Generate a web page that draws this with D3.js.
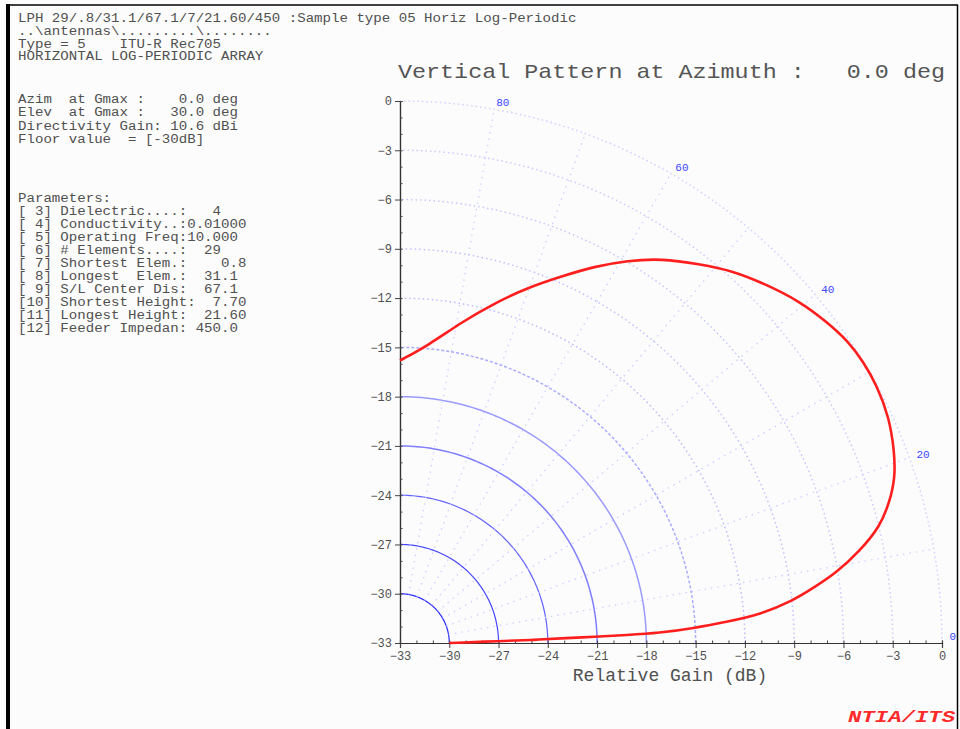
<!DOCTYPE html>
<html>
<head>
<meta charset="utf-8">
<script src="https://cdn.jsdelivr.net/npm/d3@7"></script>
<style>
  body { margin: 0; background: #fcfcfc; }
  text { font-family: "Liberation Mono", "DejaVu Sans Mono", monospace; }
</style>
</head>
<body>
<div id="chart"></div>
<script>
// Elevation angle (deg) and relative gain (dB)
const elevation = [0, 1.1, 1.3, 1.7, 1.8, 2.0, 2.2, 2.9, 3.7, 4.5, 6.2, 7.4, 9.1, 11.4, 13.6, 16.0, 18.5, 21.3, 24.8, 28.4,
  31.2, 34.0, 37.1, 40.6, 44.4, 48.2, 51.7, 55.8, 59.2, 62.7, 66.2, 70.2, 74.4, 79.1, 84.6, 90];
const gain = [-30.0, -26.9, -24.9, -22.8, -21.2, -19.2, -17.2, -15.1, -13.1, -11.0, -8.9, -7.8, -6.1, -4.4, -2.95, -2.0, -1.2, -0.7, -0.2, 0.0,
  0.0, -0.1, -0.5, -1.0, -1.8, -2.6, -3.6, -4.7, -5.9, -7.2, -8.6, -10.0, -11.5, -13.1, -14.8, -15.8];

// grid
const rings = [-30, -27, -24, -21, -18, -15, -12, -9, -6, -3, 0];
const spokes = [10, 20, 30, 40, 50, 60, 70, 80];
const angleLabels = [80, 60, 40, 20, 0];
const axisTicks = [-33, -30, -27, -24, -21, -18, -15, -12, -9, -6, -3, 0];
const floorDb = -33;

// text blocks
const header = [
  "LPH 29/.8/31.1/67.1/7/21.60/450 :Sample type 05 Horiz Log-Periodic",
  "..\\antennas\\.........\\........",
  "Type = 5    ITU-R Rec705",
  "HORIZONTAL LOG-PERIODIC ARRAY"
];
const summary = [
  "Azim  at Gmax :    0.0 deg",
  "Elev  at Gmax :   30.0 deg",
  "Directivity Gain: 10.6 dBi",
  "Floor value  = [-30dB]"
];
const params = [
  "Parameters:",
  "[ 3] Dielectric....:   4",
  "[ 4] Conductivity..:0.01000",
  "[ 5] Operating Freq:10.000",
  "[ 6] # Elements....:  29",
  "[ 7] Shortest Elem.:    0.8",
  "[ 8] Longest  Elem.:  31.1",
  "[ 9] S/L Center Dis:  67.1",
  "[10] Shortest Height:  7.70",
  "[11] Longest Height:  21.60",
  "[12] Feeder Impedan: 450.0"
];

const width = 960, height = 729;
const svg = d3.select("#chart").append("svg")
  .attr("width", width)
  .attr("height", height);

// frame
svg.append("rect").attr("x", 0).attr("y", 0).attr("width", width).attr("height", height).attr("fill", "#fcfcfc");
svg.append("line").attr("x1", 8).attr("x2", 8).attr("y1", 4).attr("y2", height).attr("stroke", "#000").attr("stroke-width", 4);
svg.append("line").attr("x1", 6).attr("x2", 958).attr("y1", 5).attr("y2", 5).attr("stroke", "#000").attr("stroke-width", 1.5);
svg.append("line").attr("x1", 957.5).attr("x2", 957.5).attr("y1", 5).attr("y2", height).attr("stroke", "#000").attr("stroke-width", 1.5);

// scales (square plot, origin at floor)
const x = d3.scaleLinear().domain([floorDb, 0]).range([400, 942]);
const y = d3.scaleLinear().domain([floorDb, 0]).range([643, 101]);
const polar = (deg, g) => {
  const r = g - floorDb, a = deg * Math.PI / 180;
  return [x(floorDb + r * Math.cos(a)), y(floorDb + r * Math.sin(a))];
};

// left text
const charW = 8.46;
function block(lines, y0, dy) {
  svg.append("g").selectAll("text")
    .data(lines)
    .join("text")
    .attr("x", 18)
    .attr("y", (d, i) => y0 + i * dy)
    .attr("font-size", 12.5)
    .attr("fill", "#505050")
    .attr("textLength", d => d.length * charW)
    .attr("lengthAdjust", "spacingAndGlyphs")
    .style("white-space", "pre")
    .text(d => d);
}
block(header, 22, 12.8);
block(summary, 103, 13.3);
block(params, 202, 13);

// title
svg.append("text")
  .attr("x", 398).attr("y", 78)
  .attr("font-size", 21)
  .attr("fill", "#555")
  .attr("textLength", 547)
  .attr("lengthAdjust", "spacingAndGlyphs")
  .style("white-space", "pre")
  .text("Vertical Pattern at Azimuth :   0.0 deg");

// rings
const ringColor = d3.scaleLinear().domain([-30, -18, -12, 0]).range(["#2a2aff", "#9a9aff", "#bcbcff", "#d0d0ff"]);
const arcLine = d3.line();
svg.append("g").selectAll("path")
  .data(rings)
  .join("path")
  .attr("d", g => arcLine(d3.range(0, 90.5, 1).map(a => polar(a, g))))
  .attr("fill", "none")
  .attr("stroke", g => ringColor(g))
  .attr("stroke-width", g => g <= -24 ? 1.2 : 1.5)
  .attr("stroke-dasharray", g => g <= -18 ? null : (g <= -15 ? "3,2" : "1.5,3"));

// spokes
svg.append("g").selectAll("line")
  .data(spokes)
  .join("line")
  .attr("x1", d => polar(d, -30)[0]).attr("y1", d => polar(d, -30)[1])
  .attr("x2", d => polar(d, 0)[0]).attr("y2", d => polar(d, 0)[1])
  .attr("stroke", "#cfcfff")
  .attr("stroke-width", 1.3)
  .attr("stroke-dasharray", "1.5,5");

// angle labels
svg.append("g").selectAll("text")
  .data(angleLabels)
  .join("text")
  .attr("x", d => polar(d, 0.4)[0] + 1)
  .attr("y", d => polar(d, 0.4)[1] + (d === 0 ? -3 : 3))
  .attr("font-size", 11)
  .attr("fill", "#3a46ff")
  .text(d => d);

// axes
const yAxis = svg.append("g").attr("transform", `translate(${x(floorDb)},0)`)
  .call(d3.axisLeft(y).tickValues(axisTicks).tickSize(5).tickFormat(d3.format("d")));
svg.append("g").attr("transform", `translate(${x(floorDb)},0)`)
  .call(d3.axisRight(y).tickValues(d3.range(floorDb, 1, 1)).tickSize(2.5).tickFormat(""));
const xAxis = svg.append("g").attr("transform", `translate(0,${y(floorDb)})`)
  .call(d3.axisBottom(x).tickValues(axisTicks).tickSize(5).tickFormat(d3.format("d")));
svg.append("g").attr("transform", `translate(0,${y(floorDb)})`)
  .call(d3.axisTop(x).tickValues(d3.range(floorDb, 1, 1)).tickSize(2.5).tickFormat(""));
svg.selectAll(".domain").attr("stroke", "#333").attr("stroke-width", 1.2);
svg.selectAll(".tick line").attr("stroke", "#444");
svg.selectAll(".tick text").attr("font-size", 12).attr("fill", "#505050")
  .attr("font-family", "Liberation Mono, monospace");
yAxis.selectAll(".tick text").attr("x", -8);
xAxis.selectAll(".tick text").attr("y", 8);

// axis label
svg.append("text")
  .attr("x", 670).attr("y", 681)
  .attr("text-anchor", "middle")
  .attr("font-size", 18)
  .attr("fill", "#505050")
  .text("Relative Gain (dB)");

// pattern
const pts = elevation.map((a, i) => polar(a, gain[i]));
svg.append("path")
  .attr("d", d3.line().curve(d3.curveBasis)(pts))
  .attr("fill", "none")
  .attr("stroke", "#ff1e1e")
  .attr("stroke-width", 2.6);

// logo
svg.append("text")
  .attr("x", 848).attr("y", 722)
  .attr("font-size", 16)
  .attr("font-weight", "bold")
  .attr("font-style", "italic")
  .attr("fill", "#ff2a2a")
  .attr("textLength", 107)
  .attr("lengthAdjust", "spacingAndGlyphs")
  .style("font-family", "Liberation Mono, monospace")
  .text("NTIA/ITS");
</script>
</body>
</html>
